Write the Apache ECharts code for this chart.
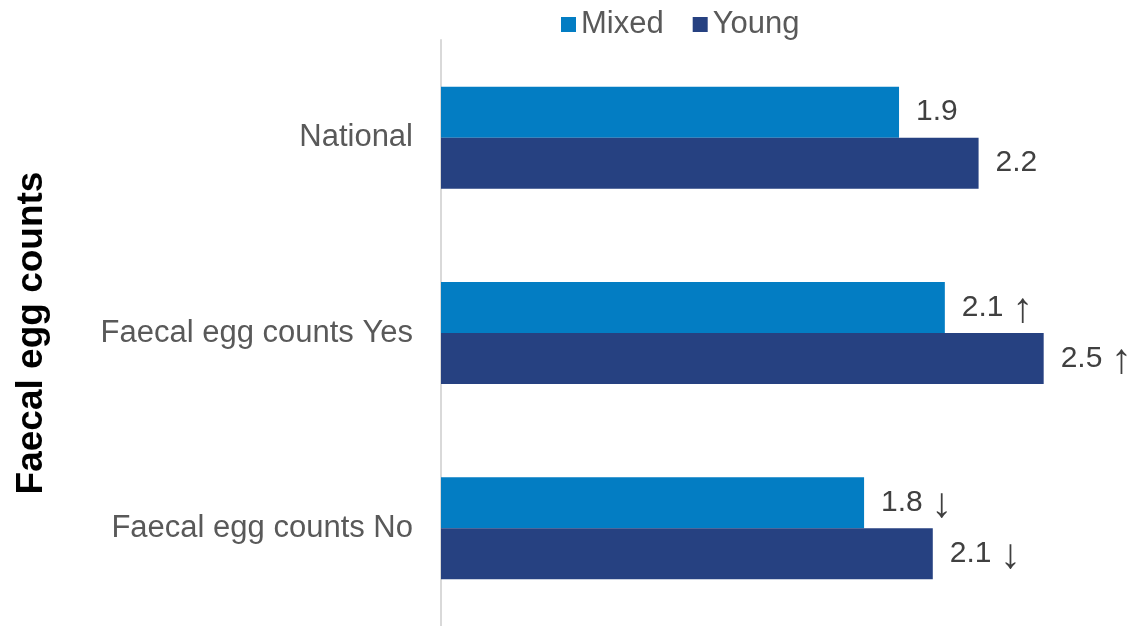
<!DOCTYPE html>
<html>
<head>
<meta charset="utf-8">
<script src="https://cdn.jsdelivr.net/npm/echarts@6/dist/echarts.min.js"></script>
<style>
  html, body { margin: 0; padding: 0; background: #fff; }
  #chart { width: 1130px; height: 626px; }
</style>
</head>
<body>
<div id="chart"></div>
<script>
// 数据
const categories = ["National", "Faecal egg counts Yes", "Faecal egg counts No"];
const seriesNames = ["Mixed", "Young"];
const mixedValues = [1.9, 2.09, 1.755];
const youngValues = [2.23, 2.5, 2.04];
const mixedLabels = ["1.9", "2.1 ↑", "1.8 ↓"];
const youngLabels = ["2.2", "2.5 ↑", "2.1 ↓"];

const FONT = "'Liberation Sans', Arial, 'DejaVu Sans', sans-serif";
const COLORS = ["#037DC3", "#264181"];

function barSeries(name, values, labels, color) {
  return {
    name: name,
    type: "bar",
    barWidth: 51,
    barGap: "0%",
    itemStyle: { color: color },
    label: {
      show: true,
      position: "right",
      distance: 17,
      color: "#404040",
      fontFamily: FONT,
      fontSize: 30,
      // 箭头单独放大
      formatter: (p) => labels[p.dataIndex].replace(/([↑↓])/, "{a|$1}"),
      rich: {
        a: {
          fontSize: 42,
          lineHeight: 30,
          color: "#404040",
          fontFamily: FONT,
          padding: [5, 0, 0, 0],
        },
      },
    },
    data: values,
  };
}

const chart = echarts.init(document.getElementById("chart"));
chart.setOption({
  animation: false,
  textStyle: { fontFamily: FONT },
  legend: {
    left: 556,
    top: 4,
    itemWidth: 15,
    itemHeight: 15,
    itemGap: 29,
    icon: "rect",
    textStyle: { color: "#595959", fontSize: 31, fontFamily: FONT },
    data: seriesNames,
  },
  grid: {
    left: 441,
    right: 14,
    top: 40,
    bottom: -2,
  },
  xAxis: {
    type: "value",
    min: 0,
    max: 2.8,
    show: false,
  },
  yAxis: {
    type: "category",
    inverse: true,
    data: categories,
    axisLine: { lineStyle: { color: "#D9D9D9", width: 2 } },
    axisTick: { show: false },
    axisLabel: {
      margin: 28,
      color: "#595959",
      fontSize: 31,
      fontFamily: FONT,
    },
    name: "Faecal egg counts",
    nameLocation: "middle",
    nameRotate: 90,
    nameGap: 391,
    nameTextStyle: {
      color: "#000",
      fontWeight: "bold",
      fontSize: 37,
      fontFamily: FONT,
    },
  },
  series: [
    barSeries(seriesNames[0], mixedValues, mixedLabels, COLORS[0]),
    barSeries(seriesNames[1], youngValues, youngLabels, COLORS[1]),
  ],
});
</script>
</body>
</html>
